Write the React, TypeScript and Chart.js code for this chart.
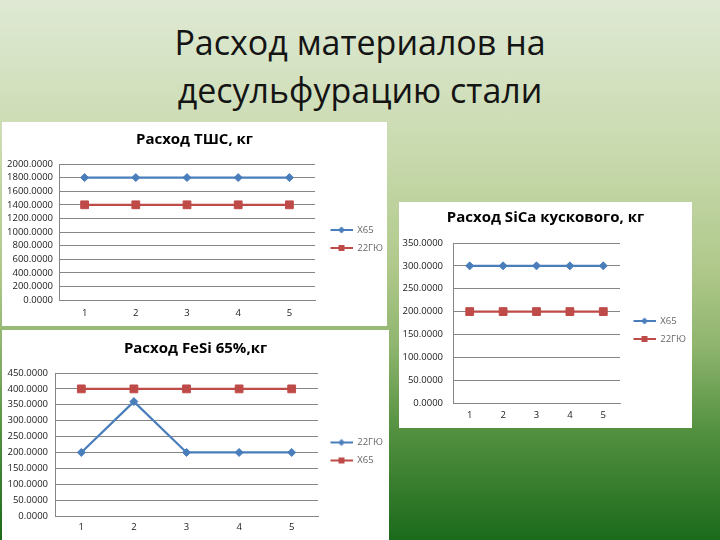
import { useEffect, useRef } from "react";
import { Chart, registerables } from "chart.js";

Chart.register(...registerables);

const FONT = "'Open Sans', 'DejaVu Sans', sans-serif";
const BLUE = "#4a7ebb";
const RED = "#be4b48";

// heat numbers on the x axis
const heats = ["1", "2", "3", "4", "5"];

// Расход ТШС, кг
const tshsX65 = [1800, 1800, 1800, 1800, 1800];
const tshs22 = [1400, 1400, 1400, 1400, 1400];
const tshsTicks = [0, 200, 400, 600, 800, 1000, 1200, 1400, 1600, 1800, 2000];

// Расход SiCa кускового, кг
const sicaX65 = [300, 300, 300, 300, 300];
const sica22 = [200, 200, 200, 200, 200];
const sicaTicks = [0, 50, 100, 150, 200, 250, 300, 350];

// Расход FeSi 65%, кг
const fesi22 = [200, 360, 200, 200, 200];
const fesiX65 = [400, 400, 400, 400, 400];
const fesiTicks = [0, 50, 100, 150, 200, 250, 300, 350, 400, 450];

type Marker = "rectRot" | "rect";

interface Series {
  label: string;
  data: number[];
  color: string;
  marker: Marker;
}

interface Frame {
  left: number;
  top: number;
  width: number;
  height: number;
  titleTop: number;
  titleBottom: number;
  yWidth: number;
  yPad: number;
  xPad: number;
  padBottom: number;
  legendWidth: number;
  lineAt: number; // distance from plot edge to legend line start
}

// little "line with marker" picture used as the legend point style
function swatch(color: string, marker: Marker, width: number) {
  const c = document.createElement("canvas");
  c.width = width;
  c.height = 10;
  const g = c.getContext("2d")!;
  const x0 = width - 22;
  g.strokeStyle = color;
  g.lineWidth = 2;
  g.beginPath();
  g.moveTo(x0, 5);
  g.lineTo(width, 5);
  g.stroke();
  g.fillStyle = color;
  const cx = x0 + 11;
  if (marker === "rect") {
    g.fillRect(cx - 3, 2, 6, 6);
  } else {
    g.beginPath();
    g.moveTo(cx, 1.5);
    g.lineTo(cx + 3.5, 5);
    g.lineTo(cx, 8.5);
    g.lineTo(cx - 3.5, 5);
    g.closePath();
    g.fill();
  }
  return c;
}

interface LineChartProps {
  title: string;
  series: Series[];
  ticks: number[];
  frame: Frame;
}

function LineChart({ title, series, ticks, frame }: LineChartProps) {
  const chartRef = useRef<HTMLCanvasElement>(null);
  const chartInstance = useRef<Chart | null>(null);

  useEffect(() => {
    if (!chartRef.current) return;
    if (chartInstance.current) chartInstance.current.destroy();
    const ctx = chartRef.current.getContext("2d");
    if (!ctx) return;

    const legendPad = 8.5;
    const swW = Math.round(frame.lineAt - legendPad + 22);
    const swatches = series.map(s => swatch(s.color, s.marker, swW));

    chartInstance.current = new Chart(ctx, {
      type: "line",
      data: {
        labels: heats,
        datasets: series.map(s => ({
          label: s.label,
          data: s.data,
          borderColor: s.color,
          backgroundColor: s.color,
          borderWidth: 2.25,
          pointStyle: s.marker,
          pointRadius: s.marker === "rect" ? 5.5 : 4,
          pointBorderWidth: 1,
          pointBackgroundColor: s.color,
          pointBorderColor: s.color,
          tension: 0,
        })),
      },
      options: {
        responsive: true,
        maintainAspectRatio: false,
        animation: false,
        events: [],
        layout: { padding: { left: 0, right: 0, top: 0, bottom: frame.padBottom } },
        scales: {
          x: {
            offset: true,
            grid: { display: false, drawTicks: false },
            border: { color: "#868686", width: 1 },
            ticks: { padding: frame.xPad, color: "#1a1a1a", font: { family: FONT, size: 9.5 } },
            afterFit: scale => {
              scale.height = 22;
            },
          },
          y: {
            min: ticks[0],
            max: ticks[ticks.length - 1],
            afterBuildTicks: scale => {
              scale.ticks = ticks.map(v => ({ value: v }));
            },
            grid: { color: "#868686", lineWidth: 1, drawTicks: false },
            border: { color: "#868686", width: 1 },
            ticks: {
              autoSkip: false,
              padding: frame.yPad,
              color: "#1a1a1a",
              font: { family: FONT, size: 9.5 },
              callback: v => Number(v).toFixed(4),
            },
            afterFit: scale => {
              scale.width = frame.yWidth;
            },
          },
        },
        plugins: {
          title: {
            display: true,
            text: title,
            color: "#000",
            font: { family: FONT, size: 15, weight: "bold" },
            padding: { top: frame.titleTop, bottom: frame.titleBottom },
          },
          tooltip: { enabled: false },
          legend: {
            position: "right",
            fullSize: false,
            maxWidth: frame.legendWidth,
            // empty title only nudges the items down, like Excel's legend
            title: { display: true, text: "", padding: 1, font: { size: 10 } },
            labels: {
              usePointStyle: true,
              pointStyleWidth: swW,
              padding: legendPad,
              color: "#1a1a1a",
              font: { family: FONT, size: 9.5 },
              generateLabels: chart =>
                chart.data.datasets.map((ds, i) => ({
                  text: ds.label as string,
                  pointStyle: swatches[i],
                  fillStyle: series[i].color,
                  strokeStyle: series[i].color,
                  lineWidth: 0,
                  hidden: false,
                  datasetIndex: i,
                })),
            },
          },
        },
      },
    });

    return () => {
      if (chartInstance.current) {
        chartInstance.current.destroy();
        chartInstance.current = null;
      }
    };
  }, [title, series, ticks, frame]);

  return (
    <div
      style={{
        position: "absolute",
        left: frame.left,
        top: frame.top,
        width: frame.width,
        height: frame.height,
        background: "#fff",
      }}
    >
      <canvas ref={chartRef}></canvas>
    </div>
  );
}

const tshsSeries: Series[] = [
  { label: "X65", data: tshsX65, color: BLUE, marker: "rectRot" },
  { label: "22ГЮ", data: tshs22, color: RED, marker: "rect" },
];
const sicaSeries: Series[] = [
  { label: "X65", data: sicaX65, color: BLUE, marker: "rectRot" },
  { label: "22ГЮ", data: sica22, color: RED, marker: "rect" },
];
const fesiSeries: Series[] = [
  { label: "22ГЮ", data: fesi22, color: BLUE, marker: "rectRot" },
  { label: "X65", data: fesiX65, color: RED, marker: "rect" },
];

const tshsFrame: Frame = {
  left: 2, top: 122, width: 385, height: 204,
  titleTop: 9, titleBottom: 15, yWidth: 57, yPad: 6, xPad: 8, padBottom: 4,
  legendWidth: 72, lineAt: 15,
};
const sicaFrame: Frame = {
  left: 399, top: 202, width: 293, height: 226,
  titleTop: 7, titleBottom: 16, yWidth: 54, yPad: 10, xPad: 7, padBottom: 3,
  legendWidth: 72, lineAt: 13,
};
const fesiFrame: Frame = {
  left: 2, top: 330, width: 387, height: 210,
  titleTop: 10, titleBottom: 15, yWidth: 53, yPad: 7, xPad: 6, padBottom: 2,
  legendWidth: 71, lineAt: 12,
};

export default function App() {
  return (
    <div
      style={{
        position: "fixed",
        left: 0,
        top: 0,
        width: 720,
        height: 540,
        overflow: "hidden",
        background:
          "linear-gradient(180deg, #dfe9d4 0%, #c9daae 28%, #afc88a 50%, #8fb56e 64%, #52903f 80%, #1b6a1b 100%)",
      }}
    >
      <div
        style={{
          position: "absolute",
          left: 0,
          top: 18,
          width: 720,
          textAlign: "center",
          fontFamily: FONT,
          fontSize: 34,
          lineHeight: "48px",
          color: "#141414",
        }}
      >
        Расход материалов на
        <br />
        десульфурацию стали
      </div>
      <LineChart title="Расход ТШС, кг" series={tshsSeries} ticks={tshsTicks} frame={tshsFrame} />
      <LineChart title="Расход SiCa кускового, кг" series={sicaSeries} ticks={sicaTicks} frame={sicaFrame} />
      <LineChart title="Расход FeSi 65%,кг" series={fesiSeries} ticks={fesiTicks} frame={fesiFrame} />
    </div>
  );
}
